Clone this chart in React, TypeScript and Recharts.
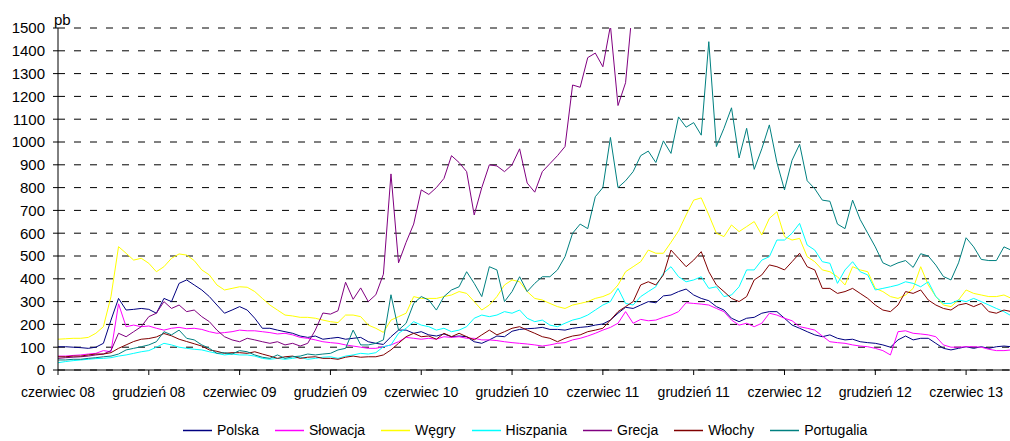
import { LineChart, Line, XAxis, YAxis, CartesianGrid, Legend } from "recharts"

const FONT = "'Liberation Sans', Arial, Helvetica, sans-serif"

// x axis: months since June 2008, one point every half month
const tickPositions = [0, 6, 12, 18, 24, 30, 36, 42, 48, 54, 60]
const tickLabels = [
  "czerwiec 08", "grudzień 08", "czerwiec 09", "grudzień 09", "czerwiec 10", "grudzień 10",
  "czerwiec 11", "grudzień 11", "czerwiec 12", "grudzień 12", "czerwiec 13",
]
const yTicks = [0, 100, 200, 300, 400, 500, 600, 700, 800, 900, 1000, 1100, 1200, 1300, 1400, 1500]

const polska = [
  102, 102, 100, 98, 95, 100, 117, 219, 314, 263, 266, 270, 266, 249, 314, 300, 380, 395, 373, 351, 322, 285, 249, 263, 278, 263, 227, 183, 183, 175, 168, 161, 149, 143, 149, 135, 139, 143, 135, 139, 143, 124, 117,
  112, 146, 175, 175, 161, 168, 154, 149, 158, 146, 149, 146, 124, 117, 132, 149, 146, 170, 178, 181, 183, 187, 178, 178, 175, 183, 187, 190, 197, 202, 219, 249, 275, 270, 285, 300, 295, 325, 329, 344, 355, 329,
  314, 304, 278, 263, 227, 212, 227, 231, 249, 256, 256, 227, 197, 183, 168, 154, 146, 154, 139, 132, 135, 124, 120, 117, 110, 100, 132, 149, 132, 139, 139, 117, 95, 88, 95, 102, 95, 102, 95, 102, 105, 102,
]
const slowacja = [
  61, 61, 64, 66, 70, 73, 85, 80, 290, 190, 197, 190, 193, 183, 175, 183, 187, 181, 183, 178, 168, 161, 164, 168, 175, 172, 172, 168, 164, 158, 161, 154, 143, 139, 132, 124, 120, 117, 110, 105, 100, 95, 95,
  102, 110, 124, 143, 139, 135, 139, 135, 146, 143, 146, 139, 139, 132, 132, 129, 124, 120, 117, 114, 110, 105, 110, 117, 120, 132, 139, 149, 161, 175, 187, 205, 256, 205, 222, 216, 219, 231, 241, 256, 295, 292,
  289, 285, 270, 256, 219, 197, 205, 190, 205, 249, 241, 227, 216, 190, 183, 175, 149, 124, 120, 117, 110, 105, 102, 95, 85, 66, 168, 172, 161, 158, 154, 146, 110, 100, 100, 102, 102, 100, 91, 85, 85, 88,
]
const wegry = [
  135, 137, 139, 139, 143, 161, 190, 322, 541, 512, 482, 490, 468, 431, 453, 490, 509, 504, 480, 439, 417, 373, 351, 358, 365, 363, 344, 314, 285, 263, 241, 237, 231, 231, 227, 219, 212, 208, 241, 241, 234, 197, 183,
  165, 219, 234, 249, 322, 314, 314, 314, 322, 329, 344, 336, 300, 263, 285, 322, 373, 395, 387, 344, 314, 307, 292, 278, 270, 285, 292, 300, 314, 322, 336, 373, 431, 453, 475, 526, 512, 512, 560, 610, 680, 745,
  755, 680, 600, 585, 636, 607, 629, 651, 592, 665, 694, 585, 570, 577, 497, 475, 439, 431, 409, 373, 453, 439, 431, 358, 344, 322, 314, 329, 358, 453, 373, 322, 285, 278, 307, 351, 336, 329, 322, 322, 329, 314,
]
const hiszpania = [
  32, 37, 41, 44, 47, 50, 51, 54, 61, 66, 73, 80, 85, 100, 117, 110, 100, 95, 91, 88, 80, 73, 66, 70, 66, 66, 61, 51, 47, 51, 47, 51, 56, 47, 51, 56, 58, 51, 61, 66, 73, 70, 76,
  102, 110, 161, 183, 212, 197, 190, 175, 183, 168, 175, 190, 227, 241, 234, 241, 256, 249, 263, 227, 212, 219, 197, 190, 205, 219, 227, 241, 263, 285, 300, 358, 292, 285, 322, 344, 365, 424, 453, 409, 387, 395,
  409, 358, 365, 322, 329, 365, 439, 439, 482, 497, 570, 570, 600, 643, 548, 526, 475, 468, 380, 439, 475, 431, 417, 351, 358, 365, 373, 387, 380, 365, 387, 322, 292, 292, 307, 300, 314, 300, 285, 270, 256, 237,
]
// Greece leaves the top of the scale in mid 2011
const grecja = [
  51, 54, 56, 58, 61, 66, 70, 85, 161, 146, 168, 190, 234, 249, 300, 270, 285, 256, 263, 234, 212, 175, 146, 132, 124, 139, 132, 124, 117, 124, 110, 117, 105, 117, 175, 250, 245, 260, 385, 310, 360, 300, 330,
  420, 860, 470, 560, 640, 790, 770, 800, 840, 940, 910, 870, 680, 800, 900, 895, 870, 900, 970, 820, 780, 870, 905, 940, 980, 1250, 1240, 1370, 1390, 1330, 1510, 1160, 1260, 1620,
]
const wlochy = [
  58, 58, 61, 61, 66, 70, 70, 76, 95, 110, 125, 135, 138, 145, 160, 150, 135, 125, 115, 105, 88, 82, 73, 76, 76, 73, 80, 70, 61, 51, 58, 61, 51, 56, 58, 51, 51, 47, 56, 61, 56, 58, 58,
  66, 88, 117, 146, 161, 146, 149, 135, 161, 146, 161, 146, 132, 154, 175, 154, 168, 183, 190, 175, 161, 146, 139, 124, 139, 149, 154, 168, 175, 183, 219, 256, 278, 300, 373, 387, 373, 417, 526, 490, 453, 482,
  519, 431, 373, 344, 314, 300, 322, 395, 417, 461, 453, 439, 475, 512, 453, 439, 358, 358, 336, 344, 358, 336, 314, 285, 263, 256, 285, 344, 336, 351, 307, 285, 270, 263, 285, 292, 278, 292, 256, 249, 263, 256,
]
const portugalia = [
  44, 44, 47, 47, 51, 54, 58, 61, 70, 88, 95, 102, 110, 124, 168, 154, 175, 139, 132, 110, 95, 73, 76, 70, 85, 80, 66, 56, 51, 66, 51, 58, 61, 70, 66, 70, 73, 88, 95, 175, 110, 110, 117,
  132, 330, 175, 205, 292, 322, 307, 263, 322, 351, 365, 431, 380, 322, 453, 439, 300, 344, 409, 344, 380, 409, 409, 439, 497, 600, 640, 620, 760, 800, 1020, 800, 830, 870, 940, 960, 910, 1005, 950, 1110, 1065, 1085,
  1030, 1440, 980, 1060, 1150, 930, 1060, 880, 970, 1075, 910, 790, 920, 990, 830, 795, 745, 740, 640, 620, 745, 660, 600, 540, 470, 455, 470, 480, 450, 510, 500, 460, 410, 395, 470, 580, 540, 485, 480, 480, 540, 525,
]

const series = [
  { key: "polska", name: "Polska", color: "#000080", values: polska },
  { key: "slowacja", name: "Słowacja", color: "#FF00FF", values: slowacja },
  { key: "wegry", name: "Węgry", color: "#FFFF00", values: wegry },
  { key: "hiszpania", name: "Hiszpania", color: "#00FFFF", values: hiszpania },
  { key: "grecja", name: "Grecja", color: "#800080", values: grecja },
  { key: "wlochy", name: "Włochy", color: "#800000", values: wlochy },
  { key: "portugalia", name: "Portugalia", color: "#008080", values: portugalia },
]

const data = polska.map((_, i) => {
  const row: Record<string, number | null> = { t: i / 2 }
  series.forEach((s) => {
    row[s.key] = s.values[i] ?? null
  })
  return row
})

// keep the legend in series order (recharts sorts the payload by name)
const LegendContent = () => (
  <div style={{ display: "flex", alignItems: "center", height: 22, fontFamily: FONT, fontSize: 14, color: "#000" }}>
    {series.map((s) => (
      <div key={s.key} style={{ display: "flex", alignItems: "center", marginRight: 16 }}>
        <svg width={29} height={3} style={{ marginRight: 5 }}>
          <line x1={0} y1={1.5} x2={29} y2={1.5} stroke={s.color} strokeWidth={1.5} />
        </svg>
        <span>{s.name}</span>
      </div>
    ))}
  </div>
)

export default function App() {
  return (
    <div style={{ position: "absolute", left: 0, top: 0, background: "#fff" }}>
      <LineChart width={1010} height={441} data={data} margin={{ top: 28, right: 0, bottom: 0, left: 0 }}>
        <CartesianGrid vertical={false} stroke="#000" strokeDasharray="7 9" />
        <XAxis
          type="number"
          dataKey="t"
          domain={[0, 62.9]}
          allowDataOverflow
          ticks={tickPositions}
          interval={0}
          tickFormatter={(v: number) => tickLabels[tickPositions.indexOf(v)] ?? ""}
          tickSize={5}
          tickMargin={12}
          height={49}
          axisLine={{ stroke: "#000" }}
          tickLine={{ stroke: "#000" }}
          tick={{ fontSize: 14, fill: "#000", fontFamily: FONT }}
        />
        <YAxis
          domain={[0, 1500]}
          allowDataOverflow
          ticks={yTicks}
          interval={0}
          width={58}
          tickSize={5}
          tickMargin={8}
          axisLine={{ stroke: "#000" }}
          tickLine={{ stroke: "#000" }}
          tick={{ fontSize: 15, fill: "#000", fontFamily: FONT }}
        />
        <Legend verticalAlign="bottom" content={LegendContent} wrapperStyle={{ left: 183, width: "auto", bottom: 0 }} />
        {series.map((s) => (
          <Line
            key={s.key}
            type="linear"
            dataKey={s.key}
            name={s.name}
            stroke={s.color}
            strokeWidth={1}
            dot={false}
            isAnimationActive={false}
          />
        ))}
        <text x={54} y={25} fontSize={15} fontFamily={FONT} fill="#000">pb</text>
      </LineChart>
    </div>
  )
}
